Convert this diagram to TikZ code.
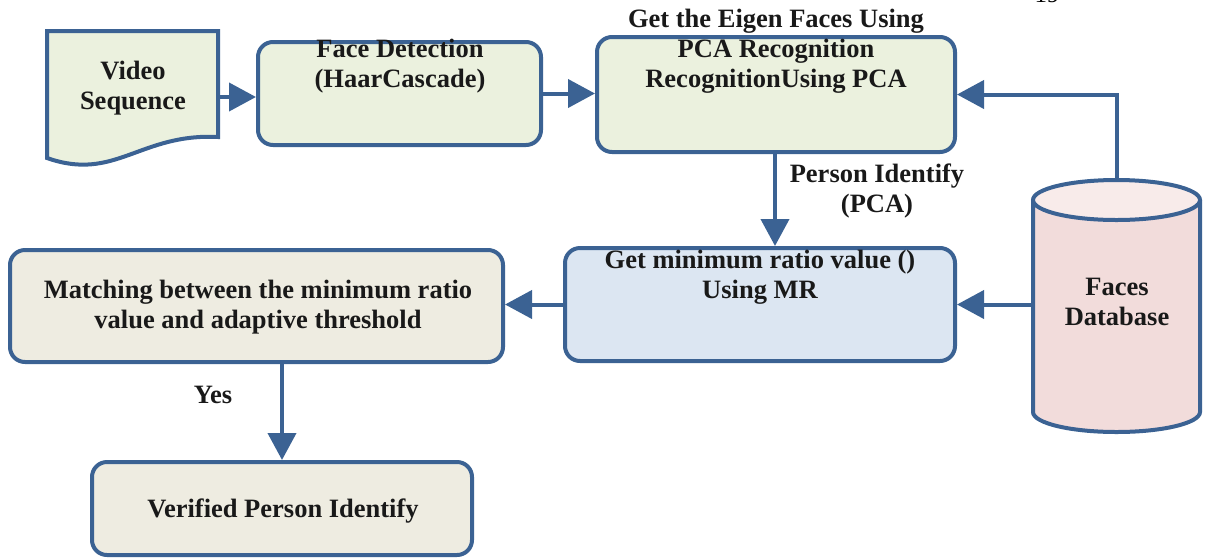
\documentclass[tikz,border=0pt]{standalone}
\usepackage{fontspec}
\setmainfont{Liberation Serif}
\usetikzlibrary{arrows.meta,calc}

\definecolor{edgeblue}{HTML}{3B6293}
\definecolor{greenfill}{HTML}{EBF1DE}
\definecolor{bluefill}{HTML}{DCE6F2}
\definecolor{beigefill}{HTML}{EEECE1}
\definecolor{pinkfill}{HTML}{F2DCDB}
\definecolor{pinktop}{HTML}{F8EBEA}

\begin{document}
\begin{tikzpicture}[x=1pt,y=-1pt,
  outline/.style={draw=edgeblue, line width=4pt},
  box/.style={outline, rounded corners=15pt, inner sep=0pt},
  spot/.style={inner sep=0pt, outer sep=2pt},
  lbl/.style={font=\fontsize{26.5}{30}\selectfont\bfseries, align=center, inner sep=0pt, text=black!90},
  flow/.style={draw=edgeblue, line width=4pt, -{Triangle[length=27pt,width=28pt]}},
]
\useasboundingbox (0,0) rectangle (1207,558);
\clip (0,0) rectangle (1207,558);

% page number at the top edge
\node[font=\fontsize{25}{30}\selectfont, anchor=base, inner sep=0pt] (pageno) at (1047,2) {19};

% input: video document
\node[spot, minimum width=171pt, minimum height=136pt] (doc) at (132.5,99) {};
\draw[outline, fill=greenfill] (47,31) -- (218,31) -- (218,137)
  .. controls (140,133) and (115,182) .. (47,158) -- cycle;
\node[lbl] (doc-t) at (133,88) {Video\\Sequence};

% processing boxes
\node[box, fill=greenfill, minimum width=283pt, minimum height=103pt] (fd) at (399.5,93.5) {};
\node[lbl] (fd-t) at (400,66) {Face Detection\\(HaarCascade)};

\node[box, fill=greenfill, minimum width=358pt, minimum height=115pt] (pca) at (776,94.5) {};
\node[lbl] (pca-t) at (776,51) {Get the Eigen Faces Using\\PCA Recognition\\RecognitionUsing PCA};

\node[box, fill=bluefill, minimum width=390pt, minimum height=113pt] (mr) at (760,304.5) {};
\node[lbl] (mr-t) at (760,277) {Get minimum ratio value ()\\Using MR};

\node[box, fill=beigefill, minimum width=493pt, minimum height=112pt] (match) at (256.5,306) {};
\node[lbl] (match-t) at (258,307) {Matching between the minimum ratio\\value and adaptive threshold};

\node[box, fill=beigefill, minimum width=380pt, minimum height=93pt] (ver) at (282,508.5) {};
\node[lbl] (ver-t) at (283,511) {Verified Person Identify};

% faces database cylinder
\node[spot, minimum width=167pt, minimum height=252pt] (db) at (1116.5,306) {};
\draw[outline, fill=pinkfill] (1033,200) -- (1033,412)
  arc[start angle=180, end angle=0, x radius=83.5, y radius=20] -- (1200,200);
\draw[outline, fill=pinktop] (1116.5,200) ellipse [x radius=83.5, y radius=20];
\node[lbl] (db-t) at (1117,302) {Faces\\Database};

% connectors
\draw[flow] (doc.east |- 0,97) -- (fd.west |- 0,97);
\draw[flow] (fd.east) -- (fd.east -| pca.west);
\draw[flow] (db.north) |- (pca.east);
\draw[flow] (pca.south -| 775,0) -- (mr.north -| 775,0);
\draw[flow] (db.west |- mr.east) -- (mr.east);
\draw[flow] (mr.west) -- (mr.west -| match.east);
\draw[flow] (ver.north |- match.south) -- (ver.north);

% connector labels
\node[lbl] (pid) at (877,191) {Person Identify\\(PCA)};
\node[lbl] (yes) at (213,395) {Yes};
\end{tikzpicture}
\end{document}
